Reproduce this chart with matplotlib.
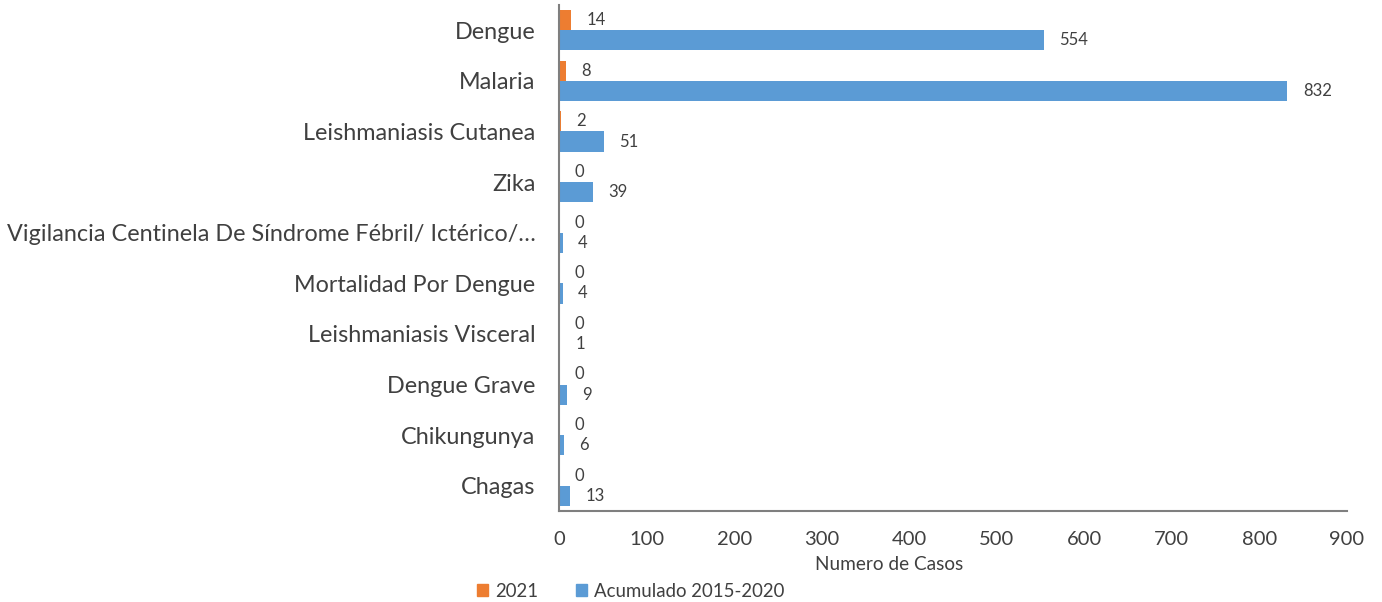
import numpy as np
import matplotlib.pyplot as plt
from matplotlib.patches import Patch

plt.rcParams["font.family"] = ["Lato", "DejaVu Sans"]

categories = [
    "Dengue",
    "Malaria",
    "Leishmaniasis Cutanea",
    "Zika",
    "Vigilancia Centinela De Síndrome Fébril/ Ictérico/…",
    "Mortalidad Por Dengue",
    "Leishmaniasis Visceral",
    "Dengue Grave",
    "Chikungunya",
    "Chagas",
]
casos_2021 = [14, 8, 2, 0, 0, 0, 0, 0, 0, 0]
acumulado = [554, 832, 51, 39, 4, 4, 1, 9, 6, 13]

orange = "#ED7D31"
blue = "#5B9BD5"
text_color = "#404040"

fig = plt.figure(figsize=(13.82, 6.02), dpi=100)
ax = fig.add_axes([0.4045, 0.151, 0.5702, 0.841])

y = np.arange(len(categories))
h = 0.4
ax.barh(y - 0.2, casos_2021, height=h, color=orange, label="2021")
ax.barh(y + 0.2, acumulado, height=h, color=blue, label="Acumulado 2015-2020")

for yi, v in zip(y, casos_2021):
    ax.annotate(str(v), (v, yi - 0.2), xytext=(11, 0), textcoords="offset points",
                va="center", ha="left", fontsize=12, color=text_color)
for yi, v in zip(y, acumulado):
    ax.annotate(str(v), (v, yi + 0.2), xytext=(11, 0), textcoords="offset points",
                va="center", ha="left", fontsize=12, color=text_color)

ax.set_ylim(9.5, -0.5)
ax.set_xlim(0, 900)
ax.set_xticks(range(0, 901, 100))
ax.set_yticks(y)
ax.set_yticklabels(categories, fontsize=16.8, color=text_color)
ax.tick_params(axis="y", length=0, pad=17)
ax.tick_params(axis="x", length=0, pad=14, labelsize=14.5, labelcolor=text_color)
ax.set_xlabel("Numero de Casos", fontsize=13.7, color=text_color, labelpad=5)
ax.xaxis.set_label_coords(0.419, -0.088)

for s in ["top", "right"]:
    ax.spines[s].set_visible(False)
for s in ["left", "bottom"]:
    ax.spines[s].set_color("#7f7f7f")
    ax.spines[s].set_linewidth(1.5)

handles = [Patch(color=orange, label="2021"), Patch(color=blue, label="Acumulado 2015-2020")]
fig.legend(handles=handles, loc="center left", bbox_to_anchor=(0.3395, 0.018), ncol=2,
           frameon=False, fontsize=13.4, handlelength=0.6, handleheight=0.6,
           handletextpad=0.4, columnspacing=2.0, borderaxespad=0, labelcolor=text_color)

fig.savefig("out.png", dpi=100)
